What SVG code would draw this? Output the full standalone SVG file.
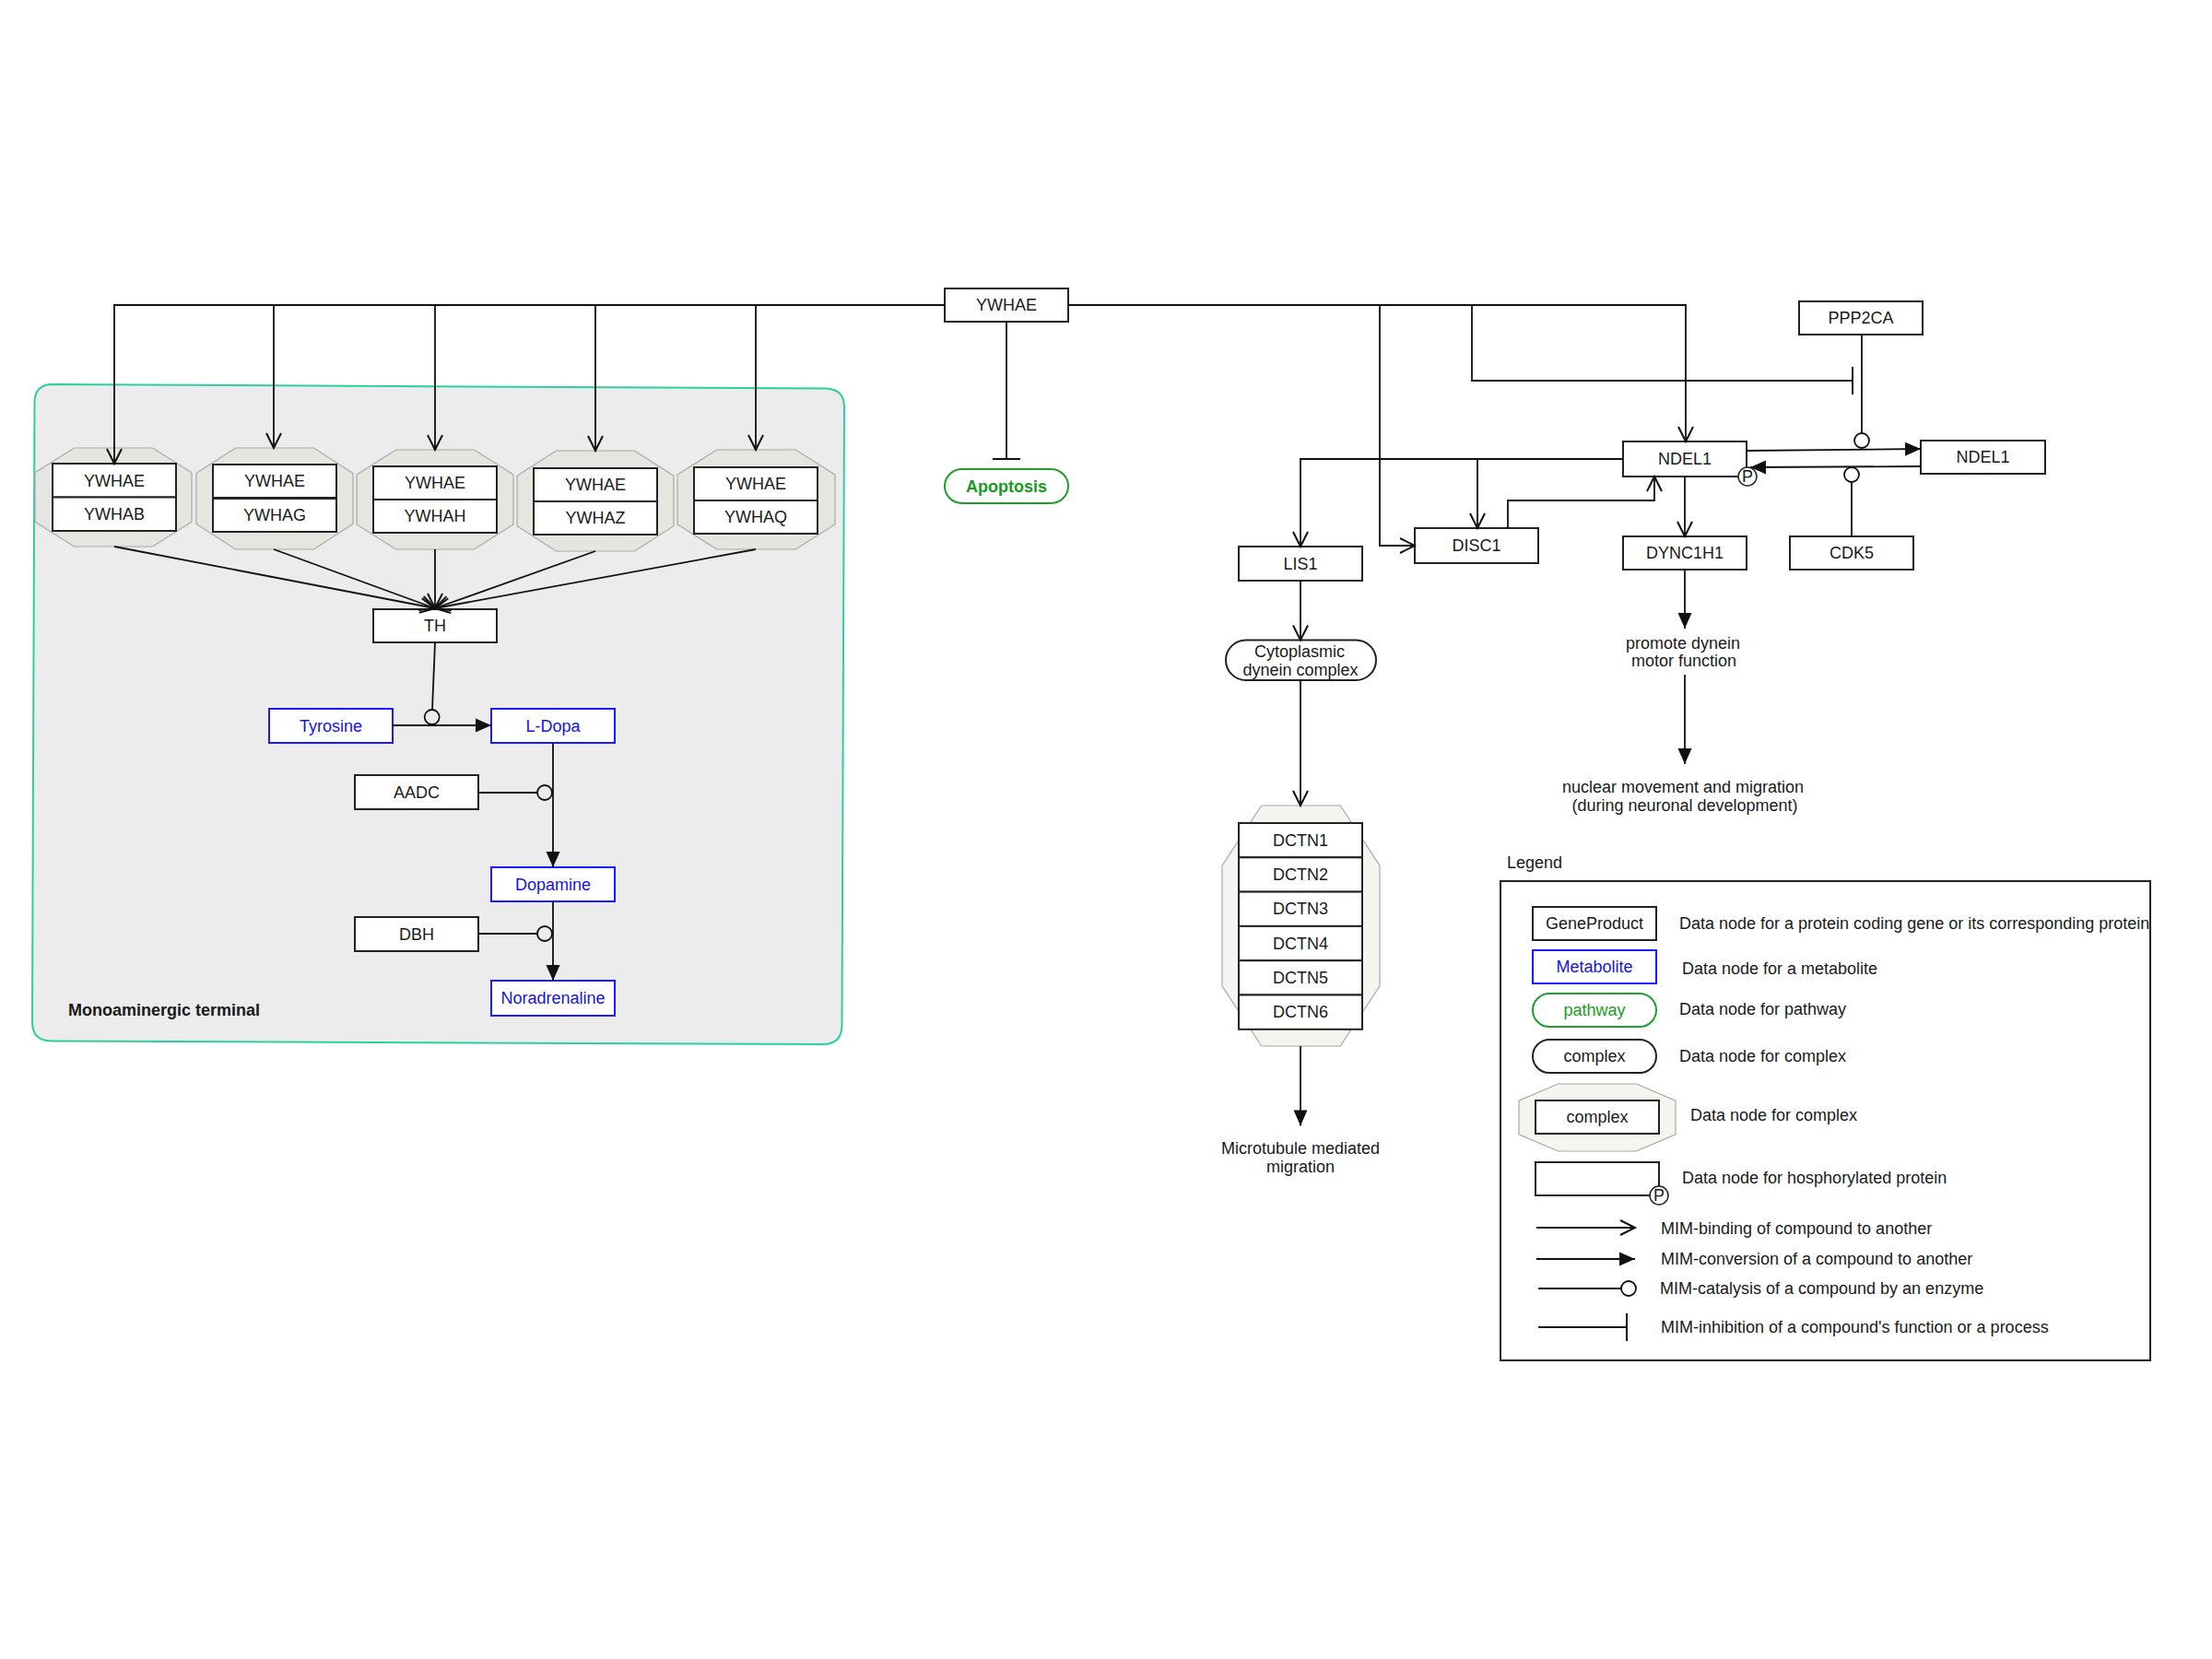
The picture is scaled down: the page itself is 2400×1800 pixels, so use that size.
<svg xmlns="http://www.w3.org/2000/svg" width="2400" height="1800" viewBox="0 0 2400 1800">
  <style>
    text { font-family: "Liberation Sans", Arial, sans-serif; font-size: 18px; fill: #1a1a1a; }
    .c { text-anchor: middle; }
    .gene { fill: #ffffff; stroke: #222; stroke-width: 2; }
    .metab { fill: #ffffff; stroke: #1a1aff; stroke-width: 2; }
    .metab-t { fill: #1414e6; }
    .path-n { fill: #ffffff; stroke: #1e9e2a; stroke-width: 2; }
    .path-t { fill: #1a9a24; }
    .cplx { fill: #ffffff; stroke: #222; stroke-width: 2; }
    .oct { fill: #e6e6e0; stroke: #a8a8a8; stroke-width: 1.2; }
    .oct-w { fill: #f5f5ef; stroke: #a8a8a8; stroke-width: 1.2; }
    .edge { fill: none; stroke: #111; stroke-width: 1.8; }
    .bind { marker-end: url(#bind); }
    .conv { marker-end: url(#conv); }
    .cat { marker-end: url(#cat); }
    .inh { marker-end: url(#inh); }
    .pcirc { fill: #ffffff; stroke: #222; stroke-width: 1.5; }
  </style>
  <defs>
    <marker id="bind" markerUnits="userSpaceOnUse" viewBox="-20 -12 24 24" markerWidth="24" markerHeight="24" refX="0" refY="0" orient="auto">
      <path d="M-16,-8 L0,0 L-16,8" fill="none" stroke="#111" stroke-width="2"/>
    </marker>
    <marker id="conv" markerUnits="userSpaceOnUse" viewBox="-20 -12 24 24" markerWidth="24" markerHeight="24" refX="0" refY="0" orient="auto">
      <path d="M-17,-7.5 L0,0 L-17,7.5 Z" fill="#111"/>
    </marker>
    <marker id="cat" markerUnits="userSpaceOnUse" viewBox="-2 -12 24 24" markerWidth="24" markerHeight="24" refX="0" refY="0" orient="auto">
      <circle cx="8" cy="0" r="8" fill="none" stroke="#111" stroke-width="1.8"/>
    </marker>
    <marker id="inh" markerUnits="userSpaceOnUse" viewBox="-4 -18 8 36" markerWidth="8" markerHeight="36" refX="0" refY="0" orient="auto">
      <path d="M0,-15 L0,15" fill="none" stroke="#111" stroke-width="2"/>
    </marker>
  </defs>

  <rect width="2400" height="1800" fill="#ffffff"/>

  <!-- Monoaminergic terminal compartment -->
  <g id="monoaminergic-terminal">
    <path d="M57,417 L896,421.5 Q916,422 916,442 L913.5,1113 Q913,1133 893,1133 L55,1129.5 Q35,1129 35,1109 L37.5,437 Q37.5,417 57,417 Z" fill="#ececec" stroke="#2ccf9e" stroke-width="2"/>
    <text x="74" y="1102" font-weight="bold">Monoaminergic terminal</text>
  </g>

  <!-- 14-3-3 dimer complexes -->
  <g id="complex-ywhae-ywhab">
    <polygon class="oct" points="80.5,486 165.5,486 208,512.75 208,566.25 165.5,593 80.5,593 38,566.25 38,512.75"/>
    <rect class="gene" x="57" y="503" width="134" height="36.5"/>
    <text class="c" x="124" y="527.5">YWHAE</text>
    <rect class="gene" x="57" y="539.5" width="134" height="36.5"/>
    <text class="c" x="124" y="564">YWHAB</text>
  </g>
  <g id="complex-ywhae-ywhag">
    <polygon class="oct" points="255.5,486 340.5,486 383,513.5 383,568.5 340.5,596 255.5,596 213,568.5 213,513.5"/>
    <rect class="gene" x="231" y="504" width="134" height="36"/>
    <text class="c" x="298" y="528">YWHAE</text>
    <rect class="gene" x="231" y="541" width="134" height="36"/>
    <text class="c" x="298" y="565">YWHAG</text>
  </g>
  <g id="complex-ywhae-ywhah">
    <polygon class="oct" points="429.5,488 514.5,488 557,515 557,569 514.5,596 429.5,596 387,569 387,515"/>
    <rect class="gene" x="405" y="506" width="134" height="36"/>
    <text class="c" x="472" y="530">YWHAE</text>
    <rect class="gene" x="405" y="542" width="134" height="36"/>
    <text class="c" x="472" y="566">YWHAH</text>
  </g>
  <g id="complex-ywhae-ywhaz">
    <polygon class="oct" points="603.5,489 688.5,489 731,516.25 731,570.75 688.5,598 603.5,598 561,570.75 561,516.25"/>
    <rect class="gene" x="579" y="508" width="134" height="36"/>
    <text class="c" x="646" y="532">YWHAE</text>
    <rect class="gene" x="579" y="544" width="134" height="36"/>
    <text class="c" x="646" y="568">YWHAZ</text>
  </g>
  <g id="complex-ywhae-ywhaq">
    <polygon class="oct" points="777.75,488 863.25,488 906,515 906,569 863.25,596 777.75,596 735,569 735,515"/>
    <rect class="gene" x="753" y="507" width="134" height="36"/>
    <text class="c" x="820" y="531">YWHAE</text>
    <rect class="gene" x="753" y="543" width="134" height="36"/>
    <text class="c" x="820" y="567">YWHAQ</text>
  </g>

  <!-- Catecholamine synthesis -->
  <g id="th"><rect class="gene" x="405" y="661" width="134" height="36"/><text class="c" x="472" y="685">TH</text></g>
  <g id="tyrosine"><rect class="metab" x="292" y="769" width="134" height="37"/><text class="c metab-t" x="359" y="793.5">Tyrosine</text></g>
  <g id="l-dopa"><rect class="metab" x="533" y="769" width="134" height="37"/><text class="c metab-t" x="600" y="793.5">L-Dopa</text></g>
  <g id="aadc"><rect class="gene" x="385" y="841" width="134" height="37"/><text class="c" x="452" y="865.5">AADC</text></g>
  <g id="dopamine"><rect class="metab" x="533" y="941" width="134" height="37"/><text class="c metab-t" x="600" y="965.5">Dopamine</text></g>
  <g id="dbh"><rect class="gene" x="385" y="995" width="134" height="37"/><text class="c" x="452" y="1019.5">DBH</text></g>
  <g id="noradrenaline"><rect class="metab" x="533" y="1064" width="134" height="38"/><text class="c metab-t" x="600" y="1089">Noradrenaline</text></g>

  <!-- YWHAE and apoptosis -->
  <g id="ywhae"><rect class="gene" x="1025" y="313" width="134" height="36"/><text class="c" x="1092" y="337">YWHAE</text></g>
  <g id="apoptosis"><rect class="path-n" x="1025" y="509" width="134" height="37" rx="18.5"/><text class="c path-t" x="1092" y="533.5" font-weight="bold">Apoptosis</text></g>

  <!-- NDEL1 network -->
  <g id="ppp2ca"><rect class="gene" x="1952" y="327" width="134" height="36"/><text class="c" x="2019" y="351">PPP2CA</text></g>
  <g id="ndel1"><rect class="gene" x="1761" y="479" width="134" height="38"/><text class="c" x="1828" y="504">NDEL1</text>
    <circle class="pcirc" cx="1896" cy="517" r="10"/><text class="c" x="1896" y="522.5" font-size="15">P</text></g>
  <g id="ndel1-b"><rect class="gene" x="2084" y="478" width="135" height="36"/><text class="c" x="2151.5" y="502">NDEL1</text></g>
  <g id="lis1"><rect class="gene" x="1344" y="593" width="134" height="37"/><text class="c" x="1411" y="617.5">LIS1</text></g>
  <g id="disc1"><rect class="gene" x="1535" y="573" width="134" height="38"/><text class="c" x="1602" y="598">DISC1</text></g>
  <g id="dync1h1"><rect class="gene" x="1761" y="582" width="134" height="36"/><text class="c" x="1828" y="606">DYNC1H1</text></g>
  <g id="cdk5"><rect class="gene" x="1942" y="582" width="134" height="36"/><text class="c" x="2009" y="606">CDK5</text></g>
  <g id="cytoplasmic-dynein-complex"><rect class="cplx" x="1330" y="694.5" width="163" height="43.5" rx="21.75"/>
    <text class="c" x="1410" y="713">Cytoplasmic</text><text class="c" x="1411" y="732.5">dynein complex</text></g>

  <!-- Dynactin complex -->
  <g id="dynactin-complex">
    <polygon class="oct-w" points="1368.75,874 1454.25,874 1497,939.25 1497,1069.75 1454.25,1135 1368.75,1135 1326,1069.75 1326,939.25"/>
    <rect class="gene" x="1344" y="893" width="134" height="37.3"/><text class="c" x="1411" y="917.6">DCTN1</text>
    <rect class="gene" x="1344" y="930.3" width="134" height="37.3"/><text class="c" x="1411" y="954.9">DCTN2</text>
    <rect class="gene" x="1344" y="967.6" width="134" height="37.3"/><text class="c" x="1411" y="992.2">DCTN3</text>
    <rect class="gene" x="1344" y="1004.9" width="134" height="37.3"/><text class="c" x="1411" y="1029.5">DCTN4</text>
    <rect class="gene" x="1344" y="1042.2" width="134" height="37.3"/><text class="c" x="1411" y="1066.8">DCTN5</text>
    <rect class="gene" x="1344" y="1079.5" width="134" height="37.3"/><text class="c" x="1411" y="1104.1">DCTN6</text>
  </g>

  <!-- Process labels -->
  <g id="label-dynein-motor"><text class="c" x="1826" y="704">promote dynein</text><text class="c" x="1827" y="723">motor function</text></g>
  <g id="label-nuclear-migration"><text class="c" x="1826" y="860">nuclear movement and migration</text><text class="c" x="1828" y="880">(during neuronal development)</text></g>
  <g id="label-microtubule"><text class="c" x="1411" y="1251.5">Microtubule mediated</text><text class="c" x="1411" y="1271.5">migration</text></g>

  <!-- Connectors -->
  <g id="connectors">
    <!-- YWHAE to the 14-3-3 dimers -->
    <path class="edge bind" d="M1025,331 H124 V503"/>
    <path class="edge bind" d="M1025,331 H297 V486"/>
    <path class="edge bind" d="M1025,331 H472 V488"/>
    <path class="edge bind" d="M1025,331 H646 V489"/>
    <path class="edge bind" d="M1025,331 H820 V488"/>
    <!-- dimers to TH -->
    <path class="edge bind" d="M124,593 L472,660"/>
    <path class="edge bind" d="M297,596 L472,660"/>
    <path class="edge bind" d="M472,596 L472,660"/>
    <path class="edge bind" d="M646,598 L472,660"/>
    <path class="edge bind" d="M820,596 L472,660"/>
    <!-- catecholamine synthesis -->
    <path class="edge conv" d="M426,787 H533"/>
    <path class="edge cat" d="M472,697 L469,770"/>
    <path class="edge conv" d="M600,806 V941"/>
    <path class="edge cat" d="M519,860 H583"/>
    <path class="edge conv" d="M600,978 V1064"/>
    <path class="edge cat" d="M519,1013 H583"/>
    <!-- YWHAE inhibits apoptosis -->
    <path class="edge inh" d="M1092,349 V498"/>
    <!-- YWHAE right-hand branches -->
    <path class="edge bind" d="M1159,331 H1829 V479"/>
    <path class="edge bind" d="M1159,331 H1497 V592 H1535"/>
    <path class="edge inh" d="M1159,331 H1597 V413 H2010"/>
    <!-- NDEL1 phosphorylation cycle -->
    <path class="edge cat" d="M2020,363 V470"/>
    <path class="edge conv" d="M1895,489 L2084,487"/>
    <path class="edge conv" d="M2084,506 L1899,507"/>
    <path class="edge cat" d="M2009,582 V523"/>
    <!-- NDEL1 partners -->
    <path class="edge bind" d="M1761,498 H1411 V593"/>
    <path class="edge bind" d="M1761,498 H1603 V573"/>
    <path class="edge bind" d="M1636,573 V543 H1795 V517"/>
    <path class="edge bind" d="M1828,517 V582"/>
    <path class="edge conv" d="M1828,618 V682"/>
    <path class="edge conv" d="M1828,732 V829"/>
    <!-- LIS1 / dynein / dynactin -->
    <path class="edge bind" d="M1411,630 V694.5"/>
    <path class="edge bind" d="M1411,738 V874"/>
    <path class="edge conv" d="M1411,1135 V1221.5"/>
  </g>

  <!-- Legend -->
  <g id="legend">
    <text x="1635" y="942">Legend</text>
    <rect x="1628" y="956" width="705" height="520" fill="none" stroke="#222" stroke-width="2"/>
    <rect class="gene" x="1663" y="984" width="134" height="36"/><text class="c" x="1730" y="1008">GeneProduct</text>
    <text x="1822" y="1008">Data node for a protein coding gene or its corresponding protein</text>
    <rect class="metab" x="1663" y="1031" width="134" height="36"/><text class="c metab-t" x="1730" y="1055">Metabolite</text>
    <text x="1825" y="1057">Data node for a metabolite</text>
    <rect class="path-n" x="1663" y="1078" width="134" height="36" rx="18"/><text class="c path-t" x="1730" y="1102">pathway</text>
    <text x="1822" y="1101">Data node for pathway</text>
    <rect class="cplx" x="1663" y="1128" width="134" height="36" rx="18"/><text class="c" x="1730" y="1152">complex</text>
    <text x="1822" y="1152">Data node for complex</text>
    <polygon class="oct-w" points="1690.5,1176 1775.5,1176 1818,1194.25 1818,1230.75 1775.5,1249 1690.5,1249 1648,1230.75 1648,1194.25"/>
    <rect class="gene" x="1666" y="1194" width="134" height="36"/><text class="c" x="1733" y="1218">complex</text>
    <text x="1834" y="1216">Data node for complex</text>
    <rect class="gene" x="1666" y="1261" width="134" height="36"/>
    <circle class="pcirc" cx="1800" cy="1297" r="10"/><text class="c" x="1800" y="1302.5" font-size="15">P</text>
    <text x="1825" y="1284">Data node for hosphorylated protein</text>
    <path class="edge bind" d="M1667,1332 H1774"/>
    <text x="1802" y="1339">MIM-binding of compound to another</text>
    <path class="edge conv" d="M1667,1366 H1774"/>
    <text x="1802" y="1372">MIM-conversion of a compound to another</text>
    <path class="edge cat" d="M1669,1398 H1759"/>
    <text x="1801" y="1404">MIM-catalysis of a compound by an enzyme</text>
    <path class="edge inh" d="M1669,1440 H1765"/>
    <text x="1802" y="1446">MIM-inhibition of a compound's function or a process</text>
  </g>
</svg>
